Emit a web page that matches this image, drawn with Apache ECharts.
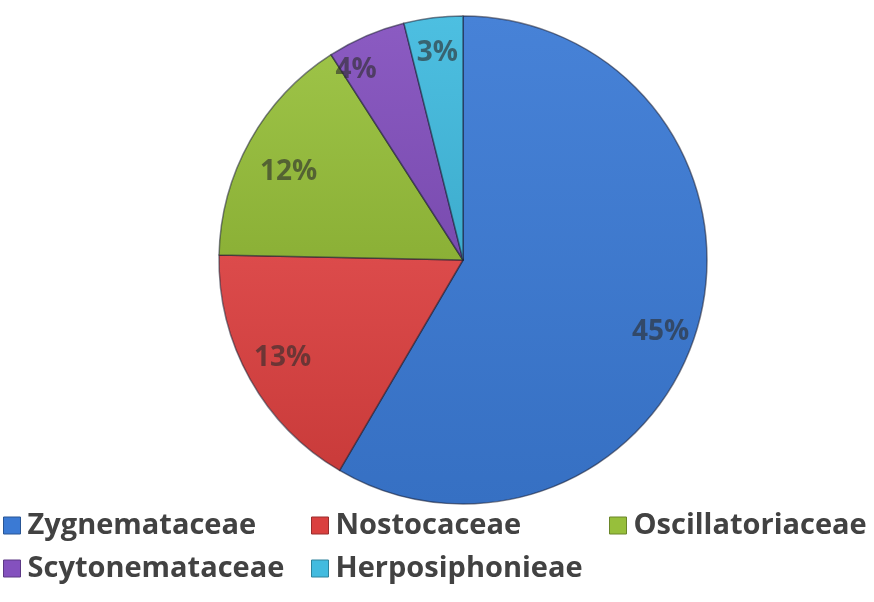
<!DOCTYPE html>
<html>
<head>
<meta charset="utf-8">
<script src="https://cdn.jsdelivr.net/npm/echarts@6/dist/echarts.min.js"></script>
<style>
  html, body { margin: 0; padding: 0; background: #ffffff; }
  #chart { width: 874px; height: 602px; }
</style>
</head>
<body>
<div id="chart"></div>
<script>
// Algal families and their share of recorded taxa (%)
const families = ['Zygnemataceae', 'Nostocaceae', 'Oscillatoriaceae', 'Scytonemataceae', 'Herposiphonieae'];
const shares = [45, 13, 12, 4, 3];

// Slice colours, one per family
const palette = ['#3b7ad4', '#da403f', '#97bf3b', '#8451be', '#42bbdf'];

// ---- layout ----
const CENTER = [463, 260];
const RADIUS = 244;
const LABEL_RING = [168, 244];           // labels sit in the middle of this ring
const labelNudge = [[-4, 17], [2, -4], [8, 14], [-24, 2], [0, 0]];
const legendSlots = [[3, 511], [311, 511], [609, 511], [3, 554], [311, 554]];
const FONT = '"Open Sans", "Liberation Sans", sans-serif';

function shade(hex, k) {
  const n = parseInt(hex.slice(1), 16);
  let r = (n >> 16) & 255, g = (n >> 8) & 255, b = n & 255;
  const f = c => Math.max(0, Math.min(255, Math.round(k >= 0 ? c + (255 - c) * k : c * (1 + k))));
  return 'rgb(' + f(r) + ',' + f(g) + ',' + f(b) + ')';
}

const sliceData = families.map((name, i) => ({
  name: name,
  value: shares[i],
  itemStyle: {
    color: {
      type: 'linear', x: 0, y: 0, x2: 0, y2: 1,
      colorStops: [
        { offset: 0, color: shade(palette[i], 0.06) },
        { offset: 1, color: shade(palette[i], -0.08) }
      ]
    }
  }
}));

const labelData = families.map((name, i) => ({
  name: name,
  value: shares[i],
  label: { offset: labelNudge[i] }
}));

const legends = families.map((name, i) => ({
  data: [{ name: name, itemStyle: { color: palette[i], borderColor: shade(palette[i], -0.3), borderWidth: 1 } }],
  left: legendSlots[i][0],
  top: legendSlots[i][1],
  padding: 0,
  itemGap: 0,
  itemWidth: 17,
  itemHeight: 17,
  icon: 'rect',
  selectedMode: false,
  textStyle: {
    fontFamily: FONT,
    fontWeight: 'bold',
    fontSize: 29,
    color: '#424242',
    padding: [0, 0, 0, 2]
  }
}));

const chart = echarts.init(document.getElementById('chart'), null, { renderer: 'canvas' });
chart.setOption({
  animation: false,
  backgroundColor: '#ffffff',
  legend: legends,
  series: [
    {
      type: 'pie',
      center: CENTER,
      radius: RADIUS,
      startAngle: 90,
      clockwise: true,
      data: sliceData,
      label: { show: false },
      labelLine: { show: false },
      emphasis: { disabled: true },
      itemStyle: { borderColor: 'rgba(25,30,50,0.55)', borderWidth: 1.5 }
    },
    {
      // transparent ring that carries the percentage labels
      type: 'pie',
      center: CENTER,
      radius: LABEL_RING,
      startAngle: 90,
      clockwise: true,
      silent: true,
      legendHoverLink: false,
      data: labelData,
      itemStyle: { color: 'rgba(0,0,0,0)' },
      labelLine: { show: false },
      emphasis: { disabled: true },
      label: {
        show: true,
        position: 'inside',
        formatter: '{c}%',
        fontFamily: FONT,
        fontWeight: 'bold',
        fontSize: 28,
        color: 'rgba(45,45,45,0.62)'
      }
    }
  ]
});
</script>
</body>
</html>
